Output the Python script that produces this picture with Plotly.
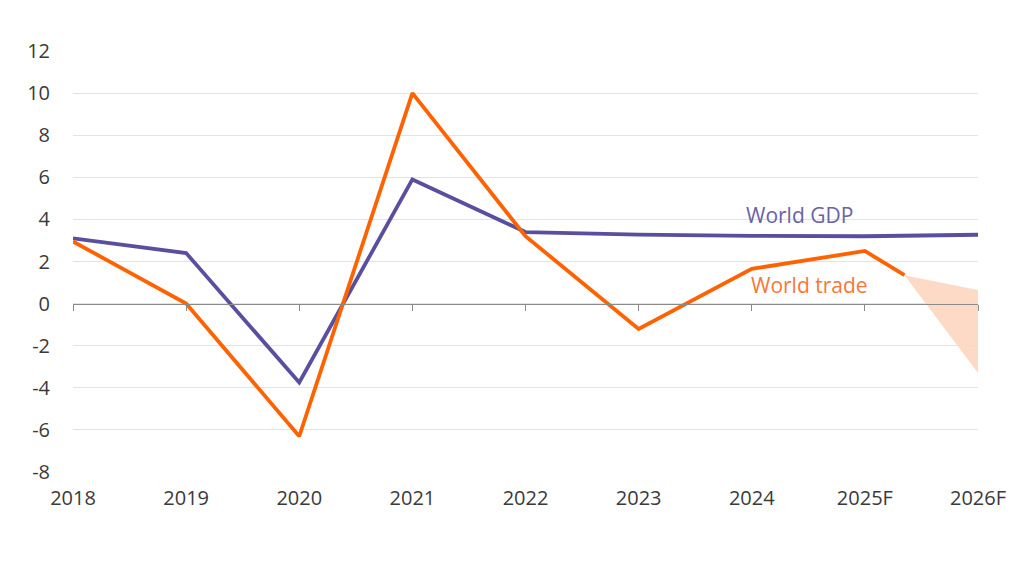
import plotly.graph_objects as go

years = [2018, 2019, 2020, 2021, 2022, 2023, 2024, 2025, 2026]
tick_labels = ["2018", "2019", "2020", "2021", "2022", "2023", "2024", "2025F", "2026F"]
y_ticks = [-8, -6, -4, -2, 0, 2, 4, 6, 8, 10, 12]
y_tick_labels = ["-8", "-6", "-4", "-2", "0", "2", "4", "6", "8", "10", "12"]
gdp = [3.1, 2.4, -3.75, 5.9, 3.4, 3.28, 3.22, 3.2, 3.27]
trade_years = [2018, 2019, 2020, 2021, 2022, 2023, 2024, 2025, 2025.35]
trade = [2.95, 0.0, -6.3, 10.0, 3.2, -1.2, 1.65, 2.5, 1.35]
fan_x = [2025.35, 2026, 2026, 2025.35]
fan_y = [1.35, 0.65, -3.3, 1.35]

purple = "#5a4f9e"
orange = "#ff6200"
font = "Open Sans"

fig = go.Figure()
fig.add_trace(go.Scatter(x=fan_x, y=fan_y, fill="toself", mode="lines",
                         line=dict(width=0), fillcolor="rgba(253,214,192,0.9)",
                         hoverinfo="skip", showlegend=False))
fig.add_trace(go.Scatter(x=years, y=gdp, mode="lines", line=dict(color=purple, width=3.8),
                         showlegend=False, name="World GDP"))
fig.add_trace(go.Scatter(x=trade_years, y=trade, mode="lines", line=dict(color=orange, width=3.8),
                         showlegend=False, name="World trade"))
fig.add_trace(go.Scatter(x=[2018, 2026], y=[None, None], xaxis="x2", showlegend=False, hoverinfo="skip"))

fig.add_annotation(x=2024.42, y=4.2, text="World GDP", showarrow=False, xanchor="center",
                   font=dict(family=font, size=21, color="#6a62a8"))
fig.add_annotation(x=2024.51, y=0.9, text="World trade", showarrow=False, xanchor="center",
                   font=dict(family=font, size=21, color="#f7773a"))

fig.update_layout(
    width=1024, height=577,
    margin=dict(l=65, r=54, t=43, b=113),
    paper_bgcolor="white", plot_bgcolor="white",
    font=dict(family=font, size=20, color="#3a3a3a"),
    xaxis=dict(range=[2018, 2026], tickvals=years, ticktext=tick_labels, showgrid=False,
               zeroline=False, showline=False, ticks="outside", ticklen=8, tickcolor="rgba(0,0,0,0)",
               tickfont=dict(size=20, color="#3a3a3a")),
    xaxis2=dict(range=[2018, 2026], overlaying="x", anchor="free", position=0.4,
                tickvals=years, showticklabels=False, showgrid=False, zeroline=False,
                showline=True, linecolor="#8a8a8a", linewidth=1.2, ticks="outside",
                ticklen=6, tickcolor="#8a8a8a", side="bottom"),
    yaxis=dict(range=[-8, 12], tickvals=y_ticks, ticktext=y_tick_labels, showgrid=True,
               gridcolor="#e3e3e3", gridwidth=1, zeroline=False, showline=False,
               ticks="outside", ticklen=18, tickcolor="rgba(0,0,0,0)",
               tickfont=dict(size=20, color="#3a3a3a")),
)

fig.write_html("out.html")
